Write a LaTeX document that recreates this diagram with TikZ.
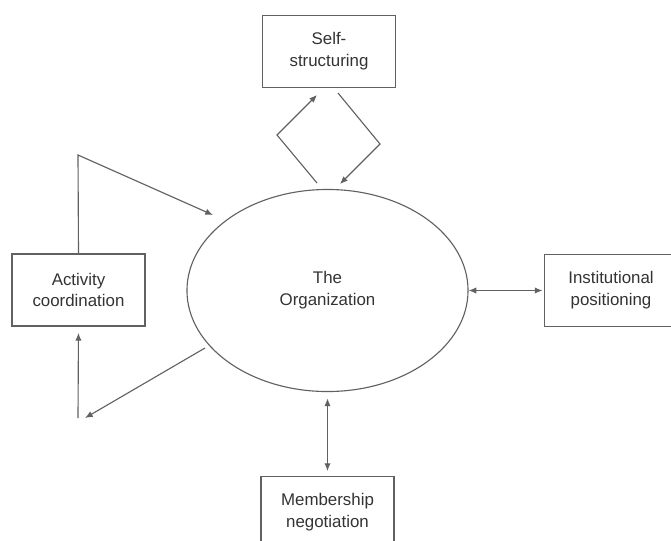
\documentclass[tikz,border=0pt]{standalone}
\usepackage{fontspec}
\setmainfont{Liberation Sans}
\usetikzlibrary{arrows.meta,shapes.geometric}

\begin{document}
\begin{tikzpicture}[x=0.025cm, y=-0.025cm,
        box/.style={rectangle, draw=black!62, line width=0.8pt, minimum width=3.325cm, minimum height=1.8cm, align=center, text=black!80, font=\fontsize{12}{15.5}\selectfont},
        link/.style={draw=black!62, line width=0.8pt, -{Latex[length=5.5pt,width=4.5pt]}},
        twoway/.style={link, {Latex[length=5.5pt,width=4.5pt]}-{Latex[length=5.5pt,width=4.5pt]}}]
        \clip (0,0) rectangle (671,540);
        \node[ellipse, draw=black!62, line width=0.8pt, minimum width=7.025cm, minimum height=5.05cm, inner sep=0pt, align=center, text=black!80, font=\fontsize{12}{15.5}\selectfont] (org) at (327.5,290.5) {The\\Organization};
        \node[box] (self) at (329,51.5) {Self-\\structuring};
        \node[box] (act) at (78.5,290) {Activity\\coordination};
        \node[box] (inst) at (611,290.5) {Institutional\\positioning};
        \node[box] (memb) at (327.5,512.5) {Membership\\negotiation};
        \coordinate (selfout) at (317,183);
        \coordinate (selfleft) at (277,135);
        \coordinate (selfin) at (317,95);
        \coordinate (selfback) at (338,93);
        \coordinate (selfright) at (380,144);
        \coordinate (orgin) at (340,184);
        \coordinate (actup) at (78,155);
        \coordinate (actin) at (213,215);
        \coordinate (orgout) at (205,348);
        \coordinate (actback) at (85,418);
        \coordinate (actdown) at (78,418);
        \draw[link] (selfout) -- (selfleft) -- (selfin);
        \draw[link] (selfback) -- (selfright) -- (orgin);
        \draw[link] (act.north) -- (actup) -- (actin);
        \draw[link] (orgout) -- (actback);
        \draw[link, shorten >=4.5pt] (actdown) -- (act.south);
        \draw[twoway, shorten >=1pt] (org.east) -- (inst.west);
        \draw[twoway, shorten <=4.5pt, shorten >=3.5pt] (org.south) -- (memb.north);
    \end{tikzpicture}
\end{document}
